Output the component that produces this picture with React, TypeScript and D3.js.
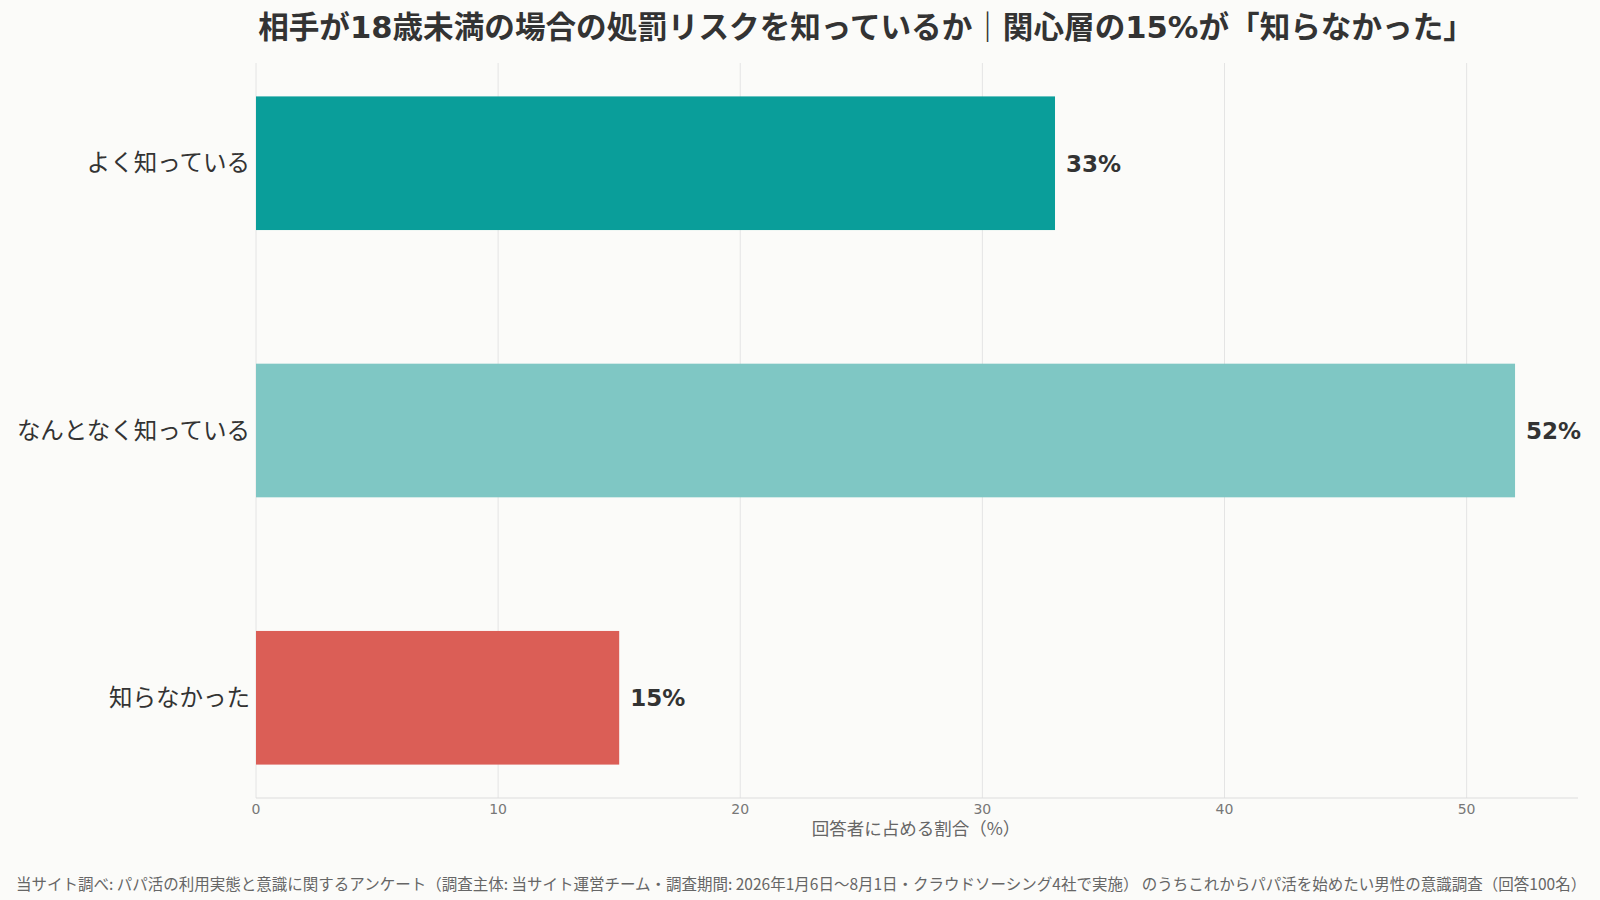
import * as d3 from "d3";

const categories = ["よく知っている", "なんとなく知っている", "知らなかった"];
const values = [33, 52, 15];
const barColors = ["#0a9e9a", "#7fc7c4", "#db5e56"];
const xTickValues = [0, 10, 20, 30, 40, 50];

const TITLE =
  "相手が18歳未満の場合の処罰リスクを知っているか｜関心層の15%が「知らなかった」";
const X_LABEL = "回答者に占める割合（%）";
const SOURCE =
  "当サイト調べ: パパ活の利用実態と意識に関するアンケート（調査主体: 当サイト運営チーム・調査期間: 2026年1月6日〜8月1日・クラウドソーシング4社で実施） のうちこれからパパ活を始めたい男性の意識調査（回答100名）";

const FONT = "'Noto Sans CJK JP', 'Noto Sans', sans-serif";
// wider latin digits, like the reference
const FONT_WIDE = "'DejaVu Sans', 'Noto Sans CJK JP', sans-serif";

export default function App() {
  const width = 1600;
  const height = 900;
  const margin = { top: 63, right: 22, bottom: 102, left: 256 };
  const innerWidth = width - margin.left - margin.right;
  const innerHeight = height - margin.top - margin.bottom;

  const xScale = d3
    .scaleLinear()
    .domain([0, d3.max(values)! * 1.05])
    .range([0, innerWidth]);

  const yScale = d3
    .scaleBand<string>()
    .domain(categories)
    .range([0, innerHeight])
    .paddingInner(0.5)
    .paddingOuter(0.125);

  return (
    <svg
      width={width}
      height={height}
      style={{ position: "absolute", left: 0, top: 0, display: "block" }}
      fontFamily={FONT}
    >
      <rect width={width} height={height} fill="#fbfbf9" />

      {/* Title */}
      <text
        x={866}
        y={38}
        textAnchor="middle"
        fontSize={30.6}
        fontWeight={700}
        fill="#333"
        fontFamily={FONT_WIDE}
      >
        {TITLE}
      </text>

      <g transform={`translate(${margin.left}, ${margin.top})`}>
        {/* Grid lines */}
        {xTickValues.map((t) => (
          <line
            key={t}
            x1={xScale(t)}
            x2={xScale(t)}
            y1={0}
            y2={innerHeight}
            stroke="#e4e4e4"
            strokeWidth={1}
          />
        ))}

        {/* X-axis */}
        <line
          x1={0}
          x2={innerWidth}
          y1={innerHeight}
          y2={innerHeight}
          stroke="#dddddd"
          strokeWidth={1}
        />
        {xTickValues.map((t) => (
          <text
            key={t}
            x={xScale(t)}
            y={innerHeight + 16}
            textAnchor="middle"
            fontSize={14}
            fill="#777"
            fontFamily={FONT_WIDE}
          >
            {t}
          </text>
        ))}
        <text
          x={660}
          y={innerHeight + 37}
          textAnchor="middle"
          fontSize={17.5}
          fill="#666"
        >
          {X_LABEL}
        </text>

        {/* Bars */}
        {categories.map((c, i) => (
          <g key={c}>
            <rect
              x={0}
              y={yScale(c)}
              width={xScale(values[i])}
              height={yScale.bandwidth()}
              fill={barColors[i]}
            />
            <text
              x={-6}
              y={yScale(c)! + yScale.bandwidth() / 2}
              dy="0.35em"
              textAnchor="end"
              fontSize={23.5}
              fill="#333"
            >
              {c}
            </text>
            <text
              x={xScale(values[i]) + 11}
              y={yScale(c)! + yScale.bandwidth() / 2}
              dy="0.36em"
              fontSize={23}
              fontWeight={700}
              fill="#333"
              fontFamily={FONT_WIDE}
            >
              {values[i]}%
            </text>
          </g>
        ))}
      </g>

      {/* Source */}
      <text x={16} y={890} fontSize={15.5} fill="#666">
        {SOURCE}
      </text>
    </svg>
  );
}
